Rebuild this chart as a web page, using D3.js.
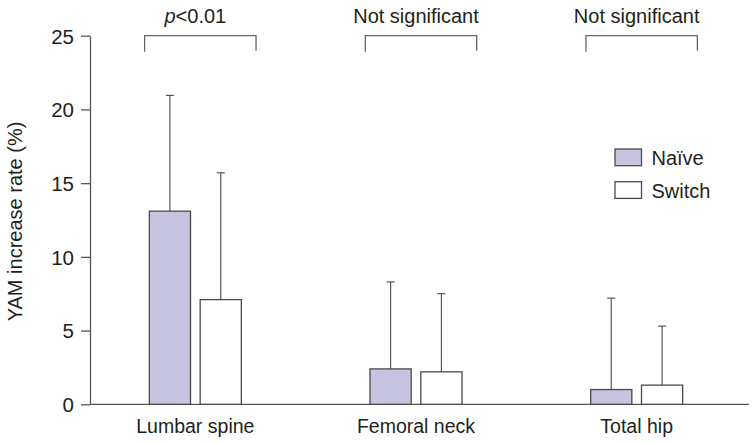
<!DOCTYPE html>
<html><head><meta charset="utf-8">
<script src="https://cdn.jsdelivr.net/npm/d3@7"></script>
<style>
body{margin:0;background:#fff;}
svg text{font-family:"Liberation Sans",Arial,sans-serif;fill:#231f20;}
</style></head>
<body><svg id="c" width="755" height="443"></svg>
<script>
const categories = ["Lumbar spine","Femoral neck","Total hip"];
const seriesNames = ["Naïve","Switch"];
const naiveMean = [13.1, 2.4, 1.0];
const naiveUpper = [20.95, 8.3, 7.2];
const switchMean = [7.1, 2.2, 1.3];
const switchUpper = [15.7, 7.5, 5.3];
const yTicks = [0,5,10,15,20,25];
const sigLabels = ["p<0.01","Not significant","Not significant"];

const svg = d3.select("#c");
const y = d3.scaleLinear().domain([0,25]).range([404.3,35.7]);
const x = d3.scaleBand().domain(categories).range([85,747]);
const x1 = d3.scaleBand().domain(seriesNames).range([-46,46]).paddingInner(0.19);
const colors = {"Naïve":"#c6c4de","Switch":"#ffffff"};
const lineCol = "#555";

// y axis
const ya = svg.append("g").attr("transform","translate(90,0)")
  .call(d3.axisLeft(y).tickValues(yTicks).tickSize(9).tickPadding(7).tickSizeOuter(0));
ya.select(".domain").attr("stroke",lineCol).attr("stroke-width",1.3);
ya.selectAll(".tick line").attr("stroke",lineCol).attr("stroke-width",1.3);
ya.selectAll(".tick text").style("font-size","20.5px").attr("fill","#231f20").attr("dy","0.36em");

// x axis line
svg.append("line").attr("x1",90).attr("x2",749).attr("y1",y(0)).attr("y2",y(0))
  .attr("stroke",lineCol).attr("stroke-width",1.3);

// x labels
svg.selectAll(".xl").data(categories).enter().append("text")
  .attr("x",d=>x(d)+x.bandwidth()/2).attr("y",432.7).attr("text-anchor","middle")
  .style("font-size","19.5px").text(d=>d);

// bars
const data = [];
categories.forEach((c,i)=>{
  data.push({c, s:"Naïve", v:naiveMean[i], u:naiveUpper[i]});
  data.push({c, s:"Switch", v:switchMean[i], u:switchUpper[i]});
});
const g = svg.append("g");
// error bars
g.selectAll(".eb").data(data).enter().append("line")
  .attr("x1",d=>x(d.c)+x.bandwidth()/2+x1(d.s)+x1.bandwidth()/2)
  .attr("x2",d=>x(d.c)+x.bandwidth()/2+x1(d.s)+x1.bandwidth()/2)
  .attr("y1",d=>y(d.v)).attr("y2",d=>y(d.u)).attr("stroke",lineCol).attr("stroke-width",1.2);
g.selectAll(".cap").data(data).enter().append("line")
  .attr("x1",d=>x(d.c)+x.bandwidth()/2+x1(d.s)+x1.bandwidth()/2-4)
  .attr("x2",d=>x(d.c)+x.bandwidth()/2+x1(d.s)+x1.bandwidth()/2+4)
  .attr("y1",d=>y(d.u)).attr("y2",d=>y(d.u)).attr("stroke",lineCol).attr("stroke-width",1.2);
g.selectAll(".bar").data(data).enter().append("rect")
  .attr("x",d=>x(d.c)+x.bandwidth()/2+x1(d.s))
  .attr("width",x1.bandwidth())
  .attr("y",d=>y(d.v)).attr("height",d=>y(0)-y(d.v))
  .attr("fill",d=>colors[d.s]).attr("stroke","#4a4a4a").attr("stroke-width",1.3);

// significance brackets
categories.forEach((c,i)=>{
  const cx = x(c)+x.bandwidth()/2;
  const bx = cx+5;
  svg.append("path")
    .attr("d",`M${bx-55.7},${y(25)+16}V${y(25)}H${bx+55.7}V${y(25)+15}`)
    .attr("fill","none").attr("stroke","#666").attr("stroke-width",1.3);
  const t = svg.append("text").attr("x",cx).attr("y",22.5).attr("text-anchor","middle")
    .style("font-size","20px");
  if(sigLabels[i].startsWith("p")){
    t.append("tspan").style("font-style","italic").text("p");
    t.append("tspan").text(sigLabels[i].slice(1));
  } else t.text(sigLabels[i]);
});

// y title
svg.append("text").attr("transform","translate(21.5,221.5) rotate(-90)")
  .attr("text-anchor","middle").style("font-size","20px").text("YAM increase rate (%)");

// legend
const lg = svg.append("g");
seriesNames.forEach((s,i)=>{
  lg.append("rect").attr("x",615).attr("y",149+i*32.7).attr("width",26.5).attr("height",16.7)
    .attr("fill",colors[s]).attr("stroke","#4a4a4a").attr("stroke-width",1.3);
  lg.append("text").attr("x",651.5).attr("y",165+i*33).style("font-size","20px").text(s);
});
</script></body></html>
